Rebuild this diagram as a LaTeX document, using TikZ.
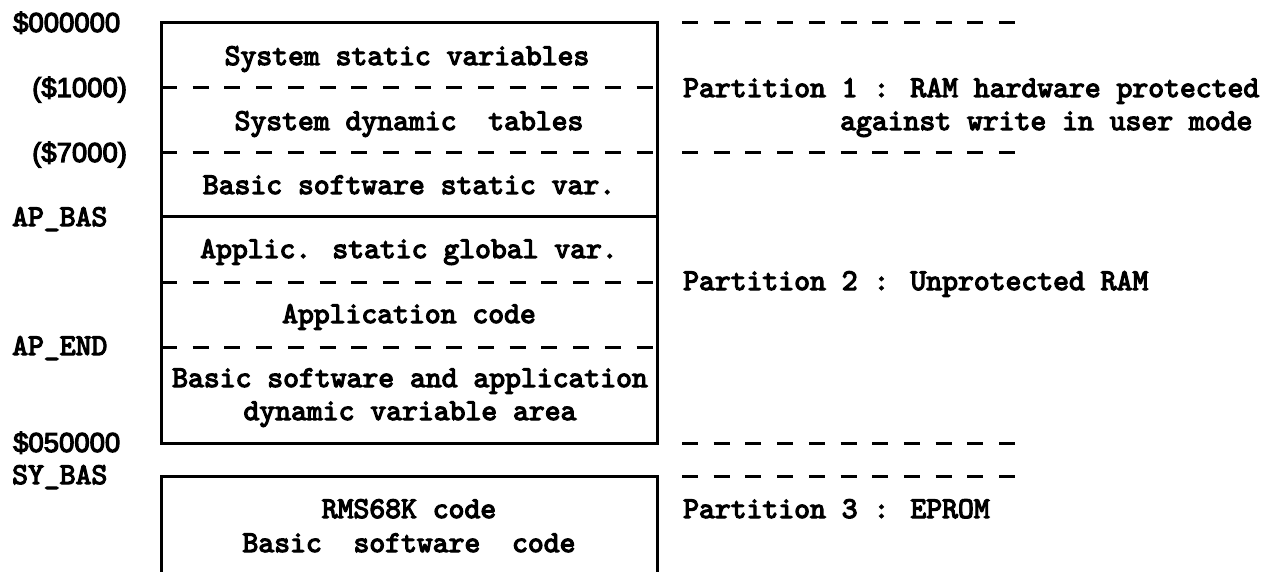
\documentclass[tikz,border=0pt]{standalone}
\usepackage{fontspec}
\newfontfamily\typ{lmmono10-regular.otf}[RawFeature={embolden=4}]
\newfontfamily\lab{Liberation Sans}[RawFeature={embolden=4}]
\begin{document}
\begin{tikzpicture}[x=1pt,y=-1pt,
  frame/.style={line width=3pt},
  sep/.style={line width=3pt, dash pattern=on 16pt off 15.7pt},
  cell/.style={font=\typ\fontsize{30.2}{33}\selectfont, inner sep=0pt, anchor=base},
  note/.style={font=\typ\fontsize{30.2}{33}\selectfont, inner sep=0pt, anchor=base west},
  addr/.style={font=\lab\fontsize{27.5}{30}\selectfont, inner sep=0pt, anchor=base west}]
\useasboundingbox (0,0) rectangle (1261,572);

% RAM block
\draw[frame] (161,23) rectangle (657,443);
\draw[sep] (161,88) -- (657,88);
\draw[sep] (161,153) -- (657,153);
\draw[frame] (161,217) -- (657,217);
\draw[sep] (161,282) -- (657,282);
\draw[sep] (161,347) -- (657,347);

% EPROM block
\draw[frame] (161,572) -- (161,476) -- (657,476) -- (657,572);

% partition boundaries
\draw[sep] (682,23) -- (1016,23);
\draw[sep] (682,153) -- (1016,153);
\draw[sep] (682,443) -- (1016,443);
\draw[sep] (682,476) -- (1016,476);

% cell contents
\node[cell] (ssv) at (407,65) {System static variables};
\node[cell] (sdt) at (409,130) {System dynamic\ \ tables};
\node[cell] (bss) at (409,194) {Basic software static var.};
\node[cell] (asg) at (409,258) {Applic. static global var.};
\node[cell] (apc) at (409,323) {Application code};
\node[cell] (dyn1) at (410,387) {Basic software and application};
\node[cell] (dyn2) at (410,420) {dynamic variable area};
\node[cell] (rom1) at (409,518) {RMS68K code};
\node[cell] (rom2) at (409,552) {Basic\ \ software\ \ code};

% addresses
\node[addr] (a0) at (13,32) {\$000000};
\node[addr] (a1) at (32,97) {(\$1000)};
\node[addr] (a7) at (32,162) {(\$7000)};
\node[addr] (a5) at (13,452) {\$050000};
\node[note] (apb) at (12,226) {AP\_BAS};
\node[note] (ape) at (12,355) {AP\_END};
\node[note] (syb) at (12,484) {SY\_BAS};

% partition descriptions
\node[note] (p1) at (683,97) {Partition 1 : RAM hardware protected};
\node[note] (p1b) at (840,130) {against write in user mode};
\node[note] (p2) at (683,290) {Partition 2 : Unprotected RAM};
\node[note] (p3) at (683,518) {Partition 3 : EPROM};
\end{tikzpicture}
\end{document}
